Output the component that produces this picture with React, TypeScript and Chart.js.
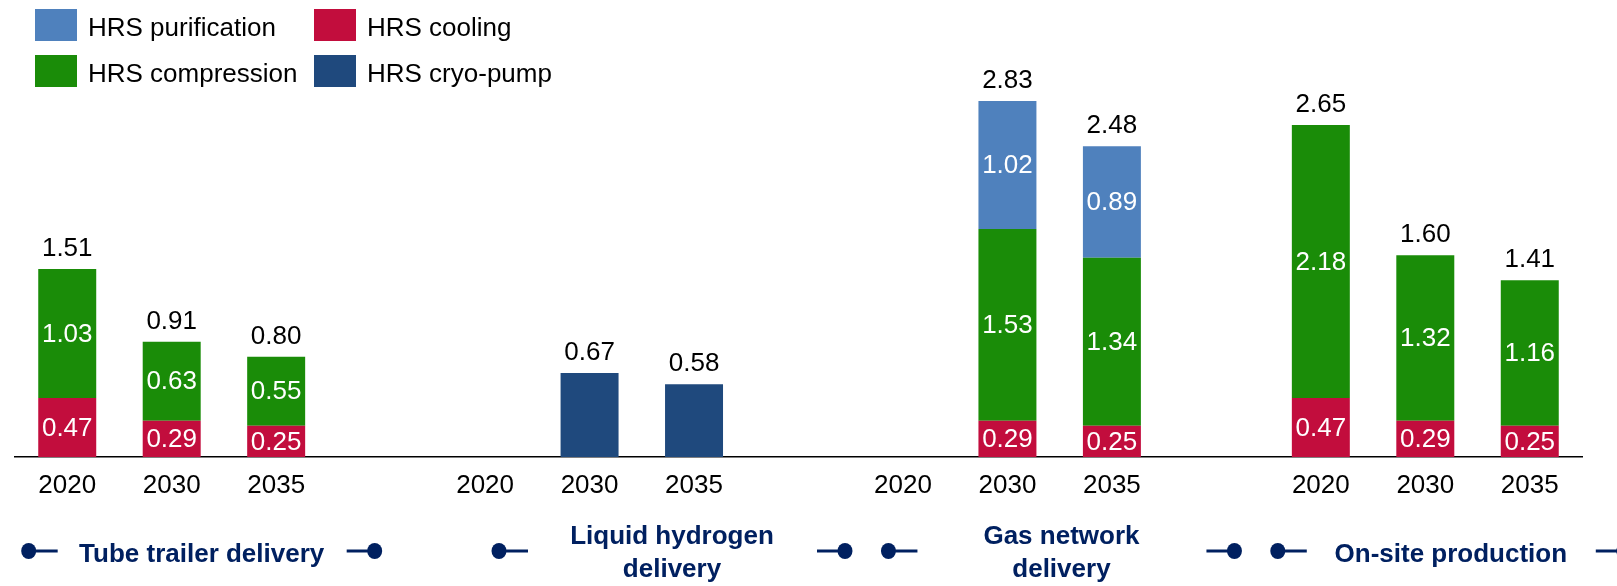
import React, { useEffect, useRef } from 'react';
import { Chart, registerables } from 'chart.js';

Chart.register(...registerables);

const categories = ['2020', '2030', '2035', '', '2020', '2030', '2035', '', '2020', '2030', '2035', '', '2020', '2030', '2035'];
const cooling = [0.47, 0.29, 0.25, null, null, null, null, null, null, 0.29, 0.25, null, 0.47, 0.29, 0.25];
const compression = [1.03, 0.63, 0.55, null, null, null, null, null, null, 1.53, 1.34, null, 2.18, 1.32, 1.16];
const purification = [null, null, null, null, null, null, null, null, null, 1.02, 0.89, null, null, null, null];
const cryoPump = [null, null, null, null, null, 0.67, 0.58, null, null, null, null, null, null, null, null];
const totals = [1.51, 0.91, 0.8, null, null, 0.67, 0.58, null, null, 2.83, 2.48, null, 2.65, 1.6, 1.41];
const groupLabels = [['Tube trailer delivery'], ['Liquid hydrogen', 'delivery'], ['Gas network', 'delivery'], ['On-site production']];
const groupCenters = [1.287, 5.789, 9.517, 13.244];

const FONT = '"Liberation Sans", Arial, sans-serif';
const NAVY = '#002060';

const valueLabels = {
  id: 'valueLabels',
  afterDatasetsDraw(chart: any) {
    const ctx = chart.ctx;
    ctx.save();
    ctx.font = `26px ${FONT}`;
    ctx.textAlign = 'center';
    chart.data.datasets.forEach((ds: any, di: number) => {
      if (!ds.innerLabel) return;
      const meta = chart.getDatasetMeta(di);
      meta.data.forEach((el: any, i: number) => {
        const v = ds.data[i];
        if (v == null) return;
        ctx.fillStyle = '#ffffff';
        ctx.textBaseline = 'middle';
        ctx.fillText(v.toFixed(2), el.x, (el.y + el.base) / 2 + 1);
      });
    });
    totals.forEach((t, i) => {
      if (t == null) return;
      let top = Infinity;
      let x = 0;
      chart.data.datasets.forEach((ds: any, di: number) => {
        if (ds.data[i] == null) return;
        const el = chart.getDatasetMeta(di).data[i];
        if (el.y < top) {
          top = el.y;
          x = el.x;
        }
      });
      ctx.fillStyle = '#000000';
      ctx.textBaseline = 'alphabetic';
      ctx.fillText(t.toFixed(2), x, top - 13);
    });
    ctx.restore();
  },
};

const gridLegend = {
  id: 'gridLegend',
  afterDraw(chart: any) {
    const ctx = chart.ctx;
    const order = [[2, 0], [1, 3]];
    const colX = [35, 314];
    const rowY = [9, 55];
    ctx.save();
    ctx.font = `26px ${FONT}`;
    ctx.textAlign = 'left';
    ctx.textBaseline = 'alphabetic';
    order.forEach((row, r) => {
      row.forEach((di, c) => {
        const ds = chart.data.datasets[di];
        ctx.fillStyle = ds.backgroundColor;
        ctx.fillRect(colX[c], rowY[r], 42, 32);
        ctx.fillStyle = '#000000';
        ctx.fillText(ds.label, colX[c] + 53, rowY[r] + 27);
      });
    });
    ctx.restore();
  },
};

const groupLabelPlugin = {
  id: 'groupLabels',
  afterDraw(chart: any) {
    const ctx = chart.ctx;
    const xs = chart.scales.x;
    ctx.save();
    ctx.font = `bold 26px ${FONT}`;
    ctx.textAlign = 'center';
    ctx.textBaseline = 'alphabetic';
    ctx.fillStyle = NAVY;
    ctx.strokeStyle = NAVY;
    ctx.lineWidth = 3;
    groupLabels.forEach((lines, g) => {
      const cx = xs.getPixelForValue(groupCenters[g]);
      const half = 173;
      const dy = 551;
      if (lines.length === 1) {
        ctx.fillText(lines[0], cx, 562);
      } else {
        ctx.fillText(lines[0], cx, 544);
        ctx.fillText(lines[1], cx, 577);
      }
      // left marker
      ctx.beginPath();
      ctx.moveTo(cx - half, dy);
      ctx.lineTo(cx - half + 29, dy);
      ctx.stroke();
      ctx.beginPath();
      ctx.ellipse(cx - half, dy, 7.5, 8, 0, 0, Math.PI * 2);
      ctx.fill();
      // right marker
      ctx.beginPath();
      ctx.moveTo(cx + half - 28, dy);
      ctx.lineTo(cx + half, dy);
      ctx.stroke();
      ctx.beginPath();
      ctx.ellipse(cx + half, dy, 7.5, 8, 0, 0, Math.PI * 2);
      ctx.fill();
    });
    ctx.restore();
  },
};

export default function App() {
  const ref = useRef<HTMLCanvasElement | null>(null);

  useEffect(() => {
    if (!ref.current) return;
    const common = { categoryPercentage: 1, barPercentage: 0.555, borderWidth: 0 };
    const chart = new Chart(ref.current, {
      type: 'bar',
      data: {
        labels: categories,
        datasets: [
          { label: 'HRS cooling', data: cooling, backgroundColor: '#C20D3D', innerLabel: true, ...common } as any,
          { label: 'HRS compression', data: compression, backgroundColor: '#1A8C08', innerLabel: true, ...common } as any,
          { label: 'HRS purification', data: purification, backgroundColor: '#4F81BD', innerLabel: true, ...common } as any,
          { label: 'HRS cryo-pump', data: cryoPump, backgroundColor: '#1F497D', innerLabel: false, ...common } as any,
        ],
      },
      options: {
        responsive: false,
        devicePixelRatio: 1,
        animation: false,
        layout: { padding: { left: 15, right: 35, top: 56, bottom: 0 } },
        plugins: { legend: { display: false }, tooltip: { enabled: false } },
        scales: {
          x: {
            stacked: true,
            grid: { display: false, drawTicks: false },
            border: { display: true, color: '#000000', width: 1.5 },
            ticks: {
              autoSkip: false,
              maxRotation: 0,
              padding: 13,
              color: '#000000',
              font: { family: FONT, size: 26 },
            },
            afterFit: (scale: any) => {
              scale.height = 129;
            },
          },
          y: {
            stacked: true,
            display: false,
            min: 0,
            max: 3.2,
          },
        },
      },
      plugins: [valueLabels, gridLegend, groupLabelPlugin],
    });
    return () => chart.destroy();
  }, []);

  return (
    <div style={{ position: 'absolute', left: 0, top: 0, width: 1617, height: 586, background: '#ffffff' }}>
      <canvas ref={ref} width={1617} height={586} style={{ display: 'block' }} />
    </div>
  );
}
